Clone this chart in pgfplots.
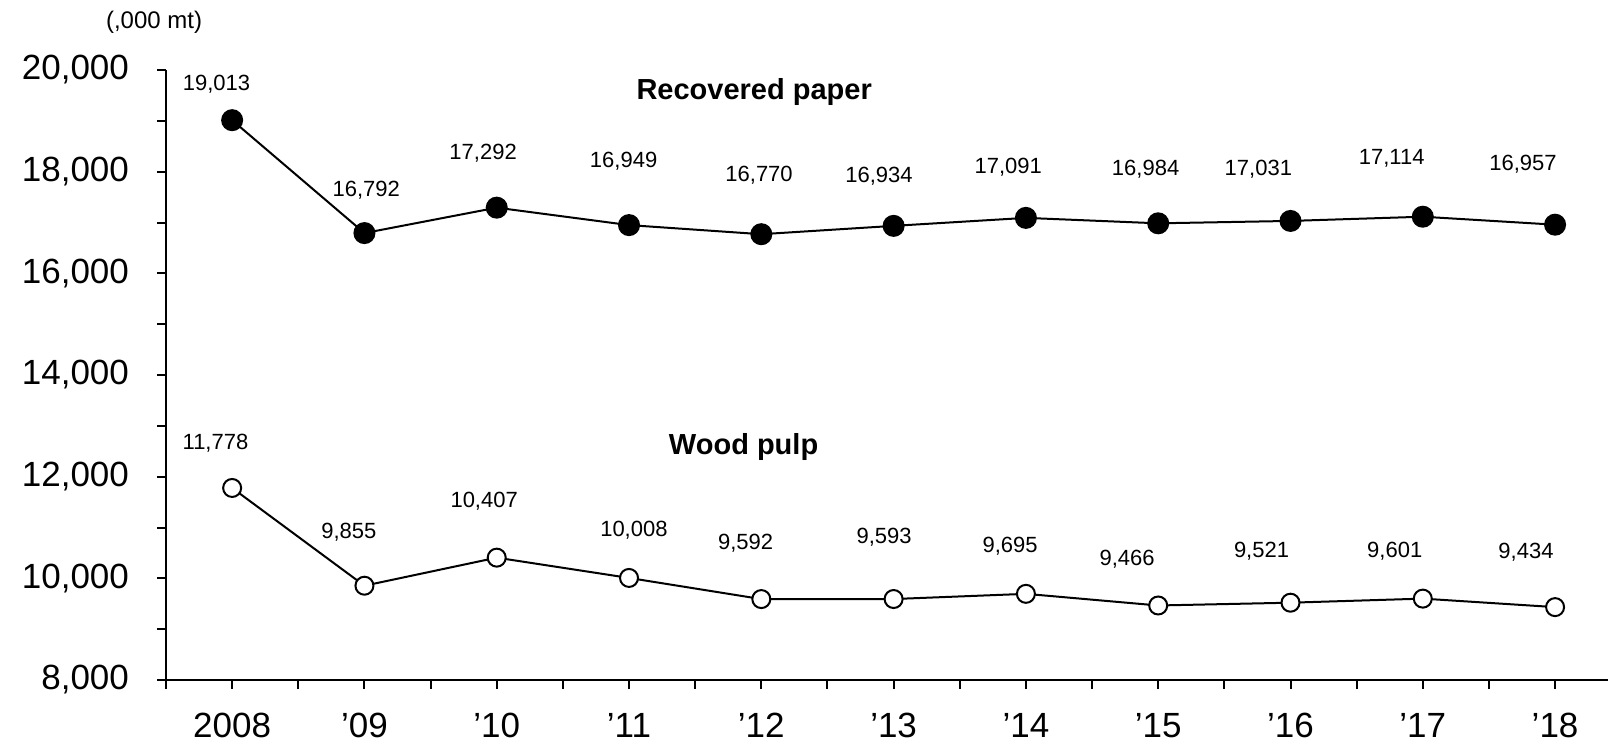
\documentclass[border=0pt]{standalone}
\usepackage{pgfplots}
\pgfplotsset{compat=1.18}
\usepackage{fontspec}
\setmainfont{Liberation Sans}
\begin{document}
\begin{tikzpicture}
\path[use as bounding box] (-83pt,-36pt) rectangle (721pt,340pt);
\begin{axis}[
  at={(0pt,0pt)}, anchor=south west,
  scale only axis, width=721pt, height=305pt,
  xmin=-0.5, xmax=10.4, ymin=8000, ymax=20000,
  axis x line*=bottom, axis y line*=left,
  axis line style={line width=1pt, black},
  xtick={0,...,10},
  xticklabels={2008,'09,'10,'11,'12,'13,'14,'15,'16,'17,'18},
  minor xtick={-0.5,0.5,...,9.5},
  ytick={8000,10000,...,20000},
  minor ytick={9000,11000,...,19000},
  tick align=outside,
  major tick length=4.5pt, minor tick length=4.5pt,
  tick style={line width=1pt, black},
  scaled y ticks=false,
  yticklabel style={/pgf/number format/assume math mode=true, /pgf/number format/1000 sep={,}, font=\fontsize{17.5}{20}\selectfont, xshift=-10.5pt},
  xticklabel style={font=\fontsize{17.5}{20}\selectfont, yshift=-8.5pt},
  clip=false,
]
\addplot[black, line width=1pt, mark=*, mark size=5pt, mark options={fill=black}] coordinates {
(0,19013) (1,16792) (2,17292) (3,16949) (4,16770) (5,16934) (6,17091) (7,16984) (8,17031) (9,17114) (10,16957)};
\addplot[black, line width=1pt, mark=*, mark size=4.5pt, mark options={fill=white, line width=1pt}] coordinates {
(0,11778) (1,9855) (2,10407) (3,10008) (4,9592) (5,9593) (6,9695) (7,9466) (8,9521) (9,9601) (10,9434)};
\addplot[draw=none, mark=none, nodes near coords, point meta=explicit symbolic,
  every node near coord/.append style={anchor=center, inner sep=0pt, font=\fontsize{11}{13}\selectfont}]
  table[meta=label] {
x y label
-0.118 19718 19,013
1.014 17640 16,792
1.897 18366 17,292
2.959 18205 16,949
3.983 17923 16,770
4.889 17903 16,934
5.866 18084 17,091
6.905 18044 16,984
7.757 18044 17,031
8.765 18266 17,114
9.757 18145 16,957
-0.126 12659 11,778
0.882 10905 9,855
1.905 11510 10,407
3.037 10945 10,008
3.881 10683 9,592
4.928 10803 9,593
5.881 10622 9,695
6.765 10380 9,466
7.781 10541 9,521
8.788 10541 9,601
9.780 10521 9,434
};
\addplot[draw=none, mark=none, nodes near coords, point meta=explicit symbolic,
  every node near coord/.append style={anchor=center, inner sep=0pt, font=\fontsize{14.5}{17}\selectfont\bfseries}]
  table[meta=label] {
x y label
3.946 19567 {Recovered paper}
3.866 12584 {Wood pulp}
};
\addplot[draw=none, mark=none, nodes near coords, point meta=explicit symbolic,
  every node near coord/.append style={anchor=center, inner sep=0pt, font=\fontsize{12}{14}\selectfont}]
  table[meta=label] {
x y label
-0.59 20944 {(,000 mt)}
};
\end{axis}
\end{tikzpicture}
\end{document}
